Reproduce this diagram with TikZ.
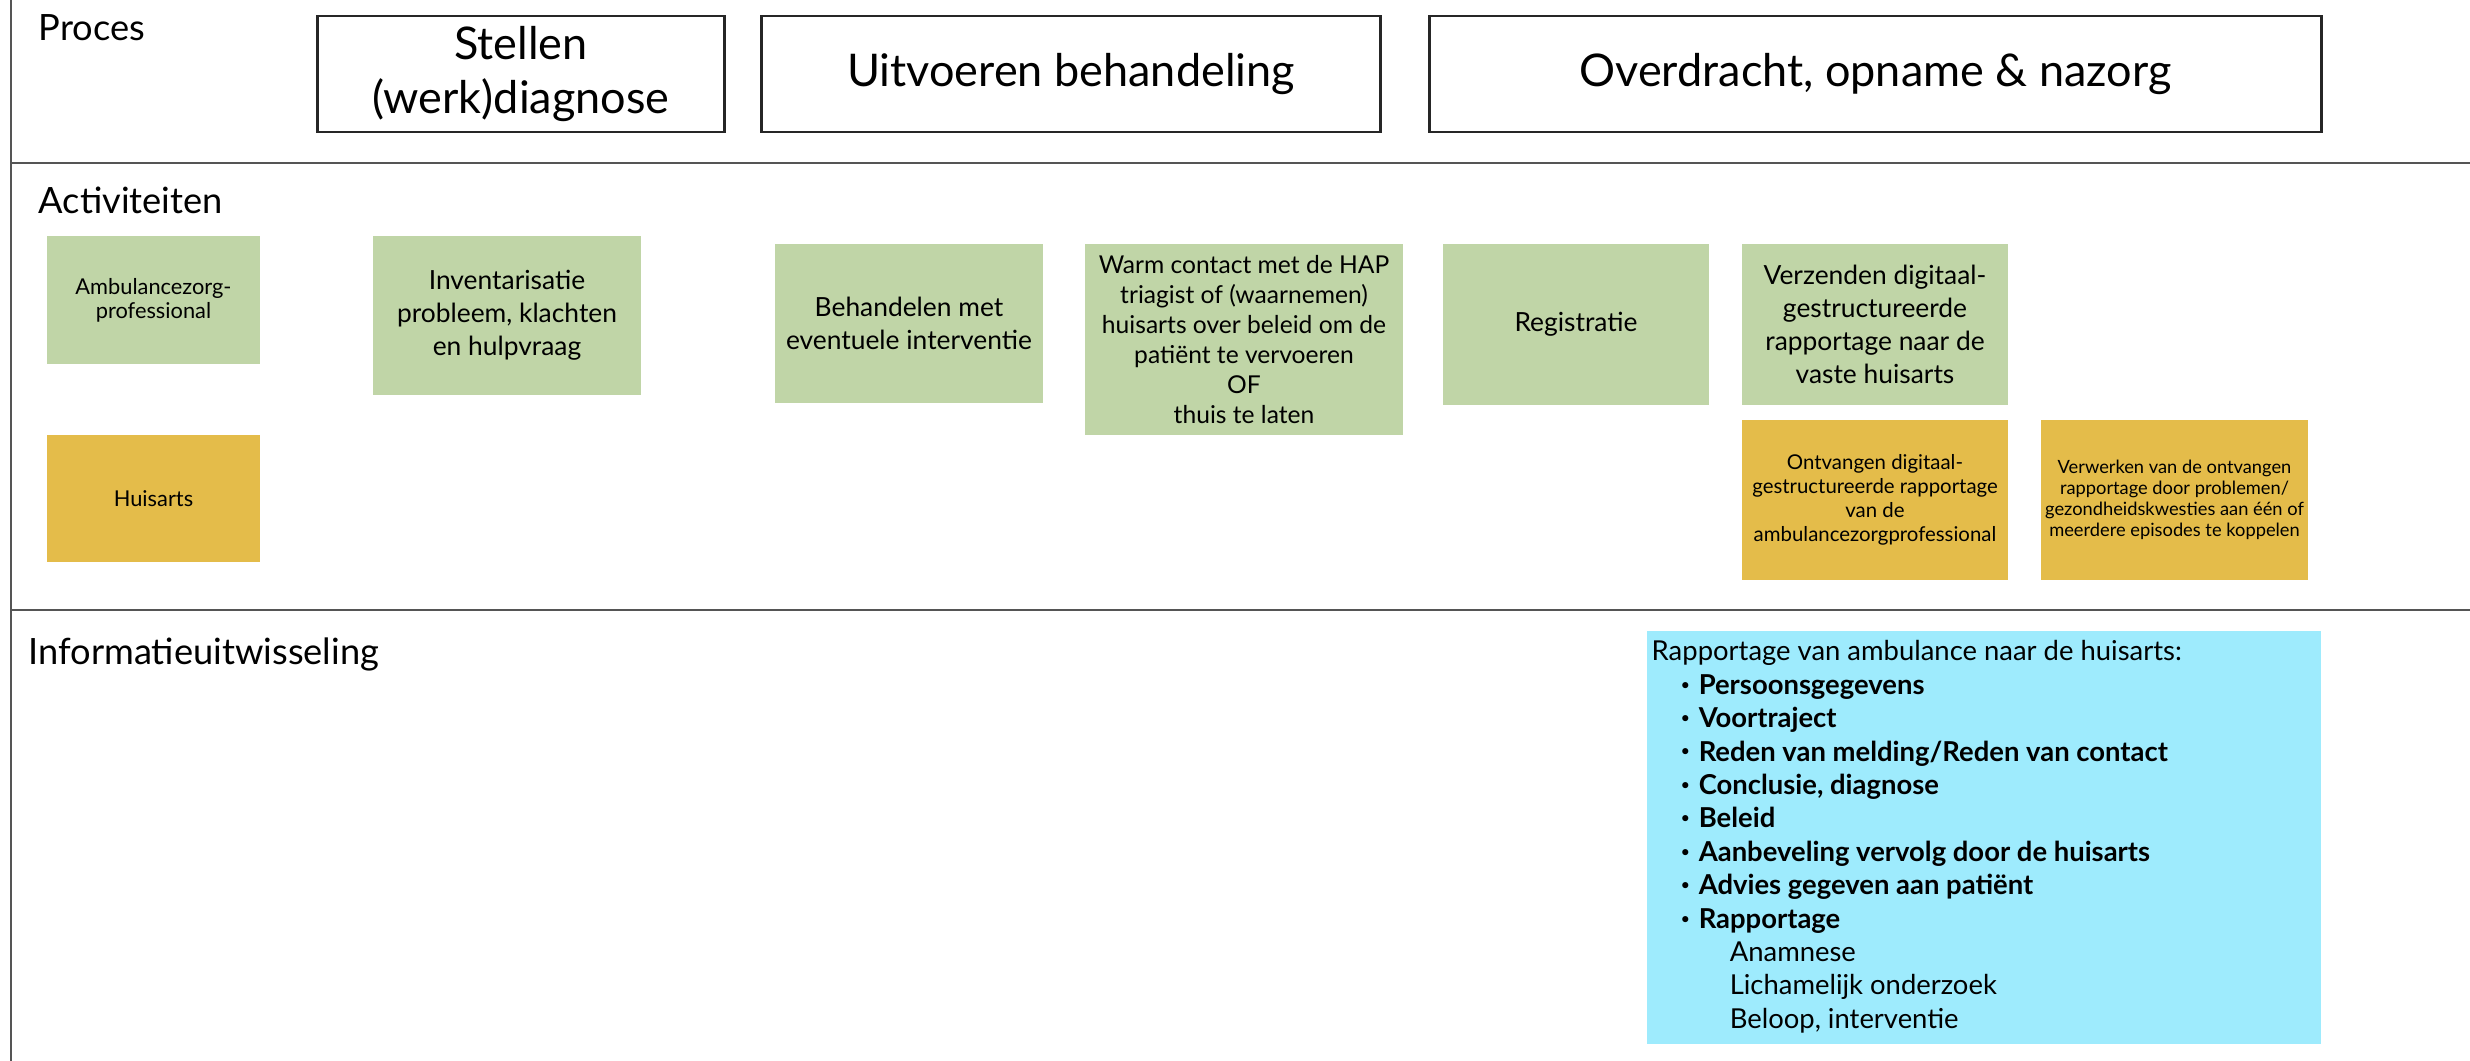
\documentclass[tikz,border=0pt]{standalone}
\usepackage{fontspec}
\setmainfont{Lato}
\usepackage{xcolor}
\usepackage{tikz}
\usetikzlibrary{positioning}
\definecolor{actgreen}{RGB}{192,213,167}
\definecolor{hapyellow}{RGB}{228,188,74}
\definecolor{infocyan}{RGB}{158,235,253}
\definecolor{lanegray}{RGB}{85,85,85}
\tikzset{%
   lane/.style={
      draw=lanegray,
      line width=0.85pt
   },
   lbl/.style={
      anchor=base west,
      inner sep=0pt,
      font=\fontsize{10.3}{12}\selectfont
   },
   pbox/.style={
      draw=black!85,
      line width=0.8pt,
      fill=white,
      align=center,
      inner sep=0pt,
      minimum height=1.16cm,
      font=\fontsize{12.8}{15.6}\selectfont
   },
   act/.style={
      fill=actgreen,
      align=center,
      inner sep=0pt,
      font=\fontsize{7.5}{9.4}\selectfont
   },
   hap/.style={
      act,
      fill=hapyellow
   },
   info/.style={
      fill=infocyan,
      anchor=north west,
      align=left,
      inner sep=0pt,
      font=\fontsize{7.8}{9.5}\selectfont
   },
}
\newcommand\rpitem[1]{%
  \hspace*{0.29cm}\makebox[0.18cm][l]{\raisebox{0.3ex}{\scalebox{0.6}{\textbullet}}}\textbf{#1}%
}
\newcommand\rpsub[1]{%
  \hspace*{0.78cm}#1%
}

\begin{document}
\begin{tikzpicture}[x=0.01cm, y=-0.01cm]
      \useasboundingbox (0,0) rectangle (2470,1061);
      \coordinate (L0) at (11,0);
      \coordinate (L1) at (11,1061);
      \coordinate (A0) at (11,163);
      \coordinate (A1) at (2470,163);
      \coordinate (B0) at (11,610);
      \coordinate (B1) at (2470,610);
      \draw[lane] (L0) -- (L1);
      \draw[lane] (A0) -- (A1);
      \draw[lane] (B0) -- (B1);
      \node[lbl] (proces) at (38,41) {Proces};
      \node[lbl] (activ) at (38,214) {Activiteiten};
      \node[lbl] (infouit) at (28,664) {Informatieuitwisseling};
      \node[pbox, minimum width=4.06cm] (stellen) at (521,74) {Stellen\\(werk)diagnose};
      \node[pbox, minimum width=6.18cm] (uitvoeren) at (1071,74) {Uitvoeren behandeling};
      \node[pbox, minimum width=8.91cm] (overdracht) at (1875.5,74) {Overdracht, opname \& nazorg};
      \node[act, minimum width=2.13cm, minimum height=1.28cm,
            font=\fontsize{6.2}{6.9}\selectfont] (azp) at (153.5,300) {Ambulancezorg-\\professional};
      \node[hap, minimum width=2.13cm, minimum height=1.27cm,
            font=\fontsize{6.2}{6.9}\selectfont] (ha) at (153.5,498.5) {Huisarts};
      \node[act, minimum width=2.68cm, minimum height=1.59cm] (invent) at (507,315.5)
            {Inventarisatie\\probleem, klachten\\en hulpvraag};
      \node[act, minimum width=2.68cm, minimum height=1.59cm] (behand) at (909,323.5)
            {Behandelen met\\eventuele interventie};
      \node[act, minimum width=3.18cm, minimum height=1.91cm,
            font=\fontsize{7}{8.5}\selectfont] (warm) at (1244,339.5)
            {Warm contact met de HAP\\triagist of (waarnemen)\\huisarts over beleid om de\\patiënt te vervoeren\\OF\\thuis te laten};
      \node[act, minimum width=2.66cm, minimum height=1.61cm] (regis) at (1576,324.5) {Registratie};
      \node[act, minimum width=2.66cm, minimum height=1.61cm] (verzend) at (1875,324.5)
            {Verzenden digitaal-\\gestructureerde\\rapportage naar de\\vaste huisarts};
      \node[hap, minimum width=2.66cm, minimum height=1.60cm,
            font=\fontsize{5.8}{6.8}\selectfont] (ontvang) at (1875,500)
            {Ontvangen digitaal-\\gestructureerde rapportage\\van de\\ambulancezorgprofessional};
      \node[hap, minimum width=2.67cm, minimum height=1.60cm,
            font=\fontsize{5.2}{6}\selectfont] (verwerk) at (2174.5,500)
            {Verwerken van de ontvangen\\rapportage door problemen/\\gezondheidskwesties aan één of\\meerdere episodes te koppelen};
      \node[info, minimum width=6.74cm, minimum height=4.13cm] (rapp) at (1646,630) {};
      \node[anchor=north west, inner sep=0pt, align=left,
            font=\fontsize{7.8}{9.5}\selectfont] (rapptxt) at (1651,640)
            {Rapportage van ambulance naar de huisarts:\\
             \rpitem{Persoonsgegevens}\\
             \rpitem{Voortraject}\\
             \rpitem{Reden van melding/Reden van contact}\\
             \rpitem{Conclusie, diagnose}\\
             \rpitem{Beleid}\\
             \rpitem{Aanbeveling vervolg door de huisarts}\\
             \rpitem{Advies gegeven aan patiënt}\\
             \rpitem{Rapportage}\\
             \rpsub{Anamnese}\\
             \rpsub{Lichamelijk onderzoek}\\
             \rpsub{Beloop, interventie}};
   \end{tikzpicture}
\end{document}
